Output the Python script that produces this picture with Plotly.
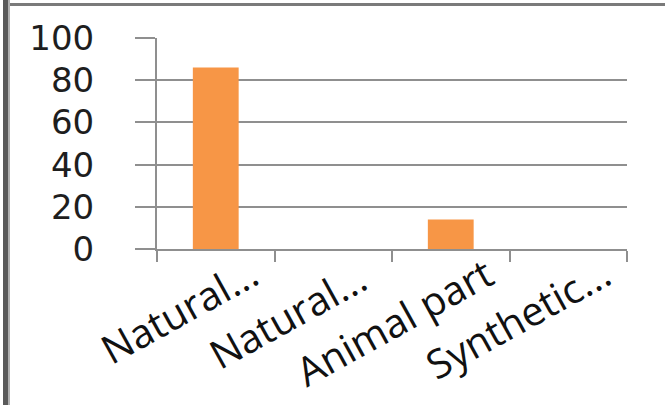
import plotly.graph_objects as go

# Share of items by material origin (%)
categories = ["Natural...", "Natural... ", "Animal part", "Synthetic..."]
values = [86, 0, 14, 0]
y_ticks = [0, 20, 40, 60, 80, 100]

W, H = 665, 405
ML, MR, MT, MB = 157, 38, 38, 156
PW, PH = W - ML - MR, H - MT - MB
grid = "#8f8f8f"

fig = go.Figure(
    go.Bar(
        x=categories,
        y=values,
        marker=dict(color="#F79646", line=dict(width=0)),
        width=0.39,
    )
)

fig.update_layout(
    width=W,
    height=H,
    margin=dict(l=ML, r=MR, t=MT, b=MB, autoexpand=False),
    paper_bgcolor="white",
    plot_bgcolor="white",
    showlegend=False,
)

fig.update_yaxes(
    range=[0, 100],
    tickvals=y_ticks,
    automargin=False,
    showgrid=True,
    gridcolor=grid,
    gridwidth=2,
    zeroline=False,
    showline=True,
    linecolor=grid,
    linewidth=2,
    ticks="outside",
    ticklen=20,
    tickwidth=2,
    tickcolor=grid,
    ticklabelstandoff=34,
    tickfont=dict(family="DejaVu Sans", size=34, color="#1e1e1e"),
)

fig.update_xaxes(
    range=[-0.5, 3.5],
    automargin=False,
    showgrid=False,
    showline=True,
    linecolor=grid,
    linewidth=2,
    ticks="outside",
    ticklen=11,
    tickwidth=2,
    tickcolor=grid,
    tickson="boundaries",
    tickangle=-29,
    ticklabelshift=36,
    ticklabelstandoff=-14,
    tickfont=dict(family="Open Sans", size=40, color="#111111"),
)

# Frame edges along the left and top of the chart area
fig.add_shape(type="rect", xref="paper", yref="paper",
              x0=(3 - ML) / PW, x1=(8 - ML) / PW,
              y0=-2, y1=2, fillcolor="#5a5a5a", line=dict(width=0), layer="above")
fig.add_shape(type="rect", xref="paper", yref="paper",
              x0=(8 - ML) / PW, x1=(10 - ML) / PW,
              y0=-2, y1=2, fillcolor="#b0b0b0", line=dict(width=0), layer="above")
fig.add_shape(type="rect", xref="paper", yref="paper",
              x0=(10 - ML) / PW, x1=2,
              y0=1 + (MT - 6) / PH, y1=1 + (MT - 3) / PH,
              fillcolor="#7a7a7a", line=dict(width=0), layer="above")

fig.write_html("out.html")
